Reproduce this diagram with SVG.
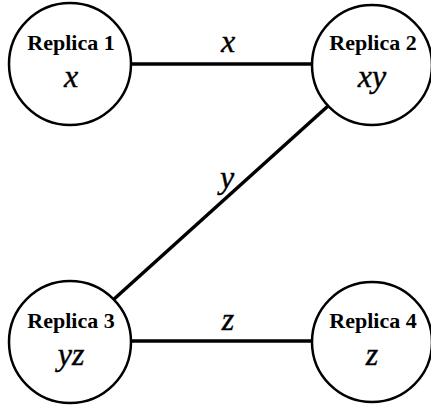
<svg xmlns="http://www.w3.org/2000/svg" width="431" height="409" viewBox="0 0 431 409">
<style>
.node circle{fill:#fff;stroke:#000;stroke-width:2.5}
.title{font-family:"Liberation Serif","Times New Roman",serif;font-weight:bold;font-size:22px;text-anchor:middle;fill:#000}
.math{font-family:"Liberation Serif","Times New Roman",serif;font-style:italic;font-size:32px;text-anchor:middle;fill:#000;stroke:#000;stroke-width:0.4}
.edges line{stroke:#000;stroke-width:3.5}
</style>
<rect width="431" height="409" fill="#fff"/>
<g class="edges" id="connectors">
<line x1="131" y1="64" x2="311" y2="64"/>
<line x1="328" y1="106" x2="113" y2="300"/>
<line x1="131" y1="341" x2="312" y2="341"/>
<text class="math" x="228" y="52">x</text>
<text class="math" x="227" y="188">y</text>
<text class="math" x="228" y="330">z</text>
</g>
<g class="node" id="replica1">
<circle cx="70" cy="64" r="61"/>
<text class="title" x="71" y="50">Replica 1</text>
<text class="math" x="71" y="87">x</text>
</g>
<g class="node" id="replica2">
<circle cx="372" cy="65" r="60"/>
<text class="title" x="373" y="50">Replica 2</text>
<text class="math" x="372" y="87">xy</text>
</g>
<g class="node" id="replica3">
<circle cx="70" cy="342" r="61"/>
<text class="title" x="71" y="328">Replica 3</text>
<text class="math" x="71" y="365">yz</text>
</g>
<g class="node" id="replica4">
<circle cx="372" cy="342" r="60"/>
<text class="title" x="373" y="328">Replica 4</text>
<text class="math" x="372" y="365">z</text>
</g>
</svg>
